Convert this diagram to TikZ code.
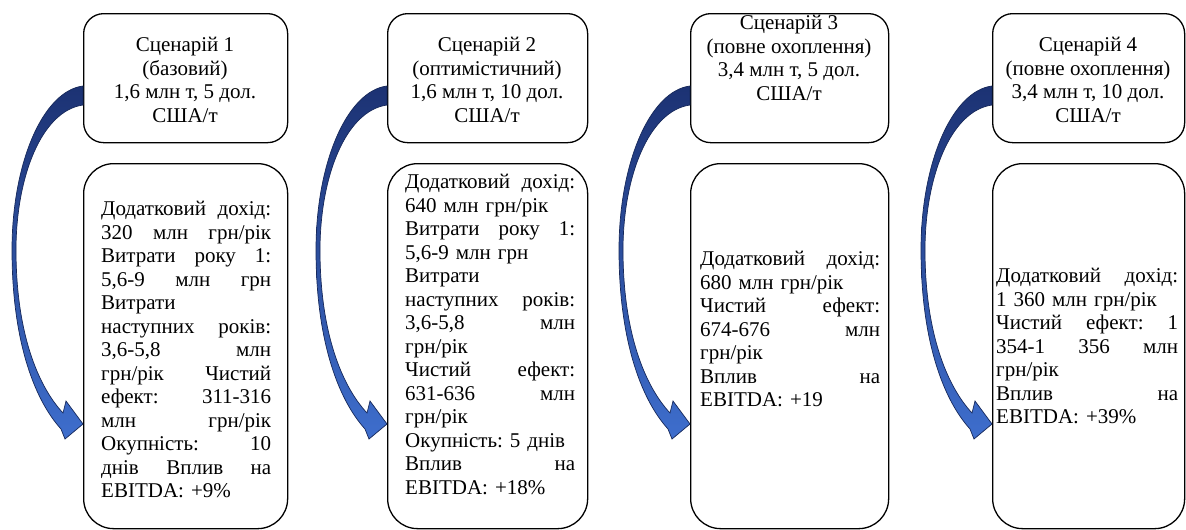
\documentclass[tikz,border=0pt]{standalone}
\usepackage{fontspec}
\setmainfont{Liberation Serif}
\usetikzlibrary{calc}
\definecolor{navy}{RGB}{22,40,90}
\definecolor{arrtop}{RGB}{28,50,115}
\definecolor{arrbot}{RGB}{62,110,205}
\newcommand\jl[1]{{\spaceskip=\fontdimen2\font plus 1fil\xspaceskip=\fontdimen2\font plus 1fil\makebox[\linewidth][s]{#1}}\\}
\newcommand\scenarrow[1]{%
  \begin{scope}[shift={(#1.north west)}]
    \path[arrowfill] (0,73) .. controls (-40,78) and (-71,150) .. (-71,237)
      .. controls (-71,325) and (-50,385) .. (-22,416)
      -- (-18,426) -- (0,411) -- (-17,388) -- (-20,400)
      .. controls (-46,372) and (-67,318) .. (-67,237)
      .. controls (-67,165) and (-42,98) .. (0,92) -- cycle;
  \end{scope}}
\begin{document}
\begin{tikzpicture}[x=1pt,y=-1pt,
  topbox/.style={draw=black, line width=1.3pt, rounded corners=20pt, anchor=north west, inner sep=0pt},
  botbox/.style={draw=black, line width=1.3pt, rounded corners=30pt, anchor=north west, inner sep=0pt},
  txt/.style={inner sep=0pt, font=\fontsize{21}{23.5}\selectfont\frenchspacing, text=black},
  jtxt/.style={txt, align=left, anchor=north west},
  ctxt/.style={txt, align=center, anchor=north},
  arrowfill/.style={top color=arrtop, bottom color=arrbot, draw=navy, line width=0.7pt}]
\useasboundingbox (0,0) rectangle (1186,530);
\clip (0,0) rectangle (1186,530);
\fill[white] (0,0) rectangle (1186,530);

% top boxes
\node[topbox, minimum width=204pt, minimum height=129pt] (s1) at (83,13) {};
\node[topbox, minimum width=200pt, minimum height=129pt] (s2) at (387,13) {};
\node[topbox, minimum width=198pt, minimum height=129pt] (s3) at (690,13) {};
\node[topbox, minimum width=192pt, minimum height=129pt] (s4) at (992,13) {};

% bottom boxes
\node[botbox, minimum width=204pt, minimum height=365pt] (b1) at (83,163) {};
\node[botbox, minimum width=200pt, minimum height=365pt] (b2) at (387,163) {};
\node[botbox, minimum width=198pt, minimum height=365pt] (b3) at (690,163) {};
\node[botbox, minimum width=192pt, minimum height=365pt] (b4) at (992,163) {};

% top texts
\node[ctxt] (h1) at (185,37) {Сценарій 1\\(базовий)\\1,6 млн т, 5 дол.\\США/т};
\node[ctxt] (h2) at (487,37) {Сценарій 2\\(оптимістичний)\\1,6 млн т, 10 дол.\\США/т};
\node[ctxt] (h3) at (789,15) {Сценарій 3\\(повне охоплення)\\3,4 млн т, 5 дол.\\США/т};
\node[ctxt] (h4) at (1088,37) {Сценарій 4\\(повне охоплення)\\3,4 млн т, 10 дол.\\США/т};

% bottom texts
\node[jtxt, text width=170pt] (t1) at (101,201) {%
\jl{Додатковий дохід:}
\jl{320 млн грн/рік}
\jl{Витрати року 1:}
\jl{5,6-9 млн грн}
Витрати\\
\jl{наступних років:}
\jl{3,6-5,8 млн}
\jl{грн/рік Чистий}
\jl{ефект: 311-316}
\jl{млн грн/рік}
\jl{Окупність: 10}
\jl{днів Вплив на}
EBITDA: +9\%};

\node[jtxt, text width=170pt] (t2) at (405,174) {%
\jl{Додатковий дохід:}
640 млн грн/рік\\
\jl{Витрати року 1:}
5,6-9 млн грн\\
Витрати\\
\jl{наступних років:}
\jl{3,6-5,8 млн}
грн/рік\\
\jl{Чистий ефект:}
\jl{631-636 млн}
грн/рік\\
Окупність: 5 днів\\
\jl{Вплив на}
EBITDA: +18\%};

\node[jtxt, text width=180pt] (t3) at (700,251) {%
\jl{Додатковий дохід:}
680 млн грн/рік\\
\jl{Чистий ефект:}
\jl{674-676 млн}
грн/рік\\
\jl{Вплив на}
EBITDA: +19};

\node[jtxt, text width=182pt] (t4) at (996,268) {%
\jl{Додатковий дохід:}
1 360 млн грн/рік\\
\jl{Чистий ефект: 1}
\jl{354-1 356 млн}
грн/рік\\
\jl{Вплив на}
EBITDA: +39\%};

% curved arrows
\scenarrow{s1}
\scenarrow{s2}
\scenarrow{s3}
\scenarrow{s4}
\end{tikzpicture}
\end{document}
